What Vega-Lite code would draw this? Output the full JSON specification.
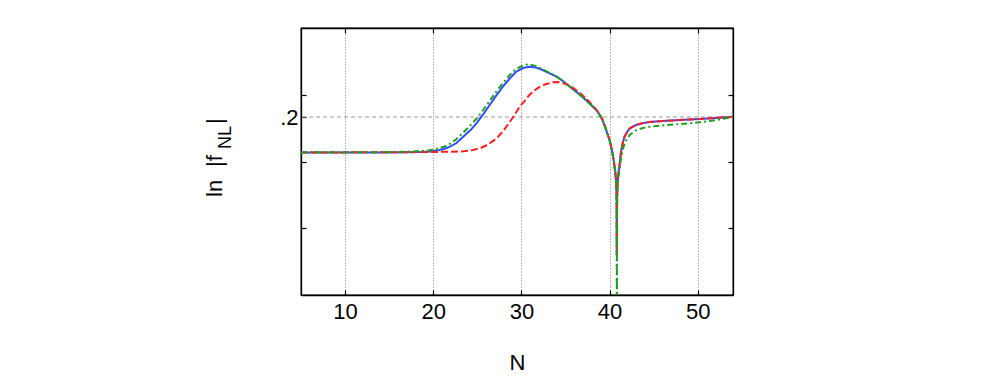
{
  "$schema": "https://vega.github.io/schema/vega-lite/v6.json",
  "width": 432,
  "height": 267,
  "autosize": "none",
  "padding": {"left": 301, "top": 28, "right": 266, "bottom": 83},
  "background": "white",
  "config": {
    "view": {"stroke": "black", "strokeWidth": 1.3},
    "font": "Liberation Sans",
    "axis": {"domainColor": "black", "domainWidth": 1.3, "tickColor": "black", "tickWidth": 1.2, "labelColor": "black", "labelFont": "Liberation Sans", "labelFontSize": 22, "titleFont": "Liberation Sans", "titleFontSize": 22, "titleFontWeight": "normal", "titleColor": "black", "grid": false}
  },
  "datasets": {
    "one": [{"k": 1}],
    "b": [
      {"N":5,"v":0.1202},{"N":8,"v":0.1202},{"N":12,"v":0.1203},{"N":15,"v":0.1205},{"N":17,"v":0.1208},{"N":18.5,"v":0.1215},{"N":19.6,"v":0.1225},{"N":20.5,"v":0.125},{"N":21.2,"v":0.128},{"N":21.9,"v":0.1333},{"N":22.6,"v":0.141},{"N":23.4,"v":0.1557},{"N":24.2,"v":0.17},{"N":24.9,"v":0.1858},{"N":25.6,"v":0.204},{"N":26.4,"v":0.227},{"N":27.1,"v":0.247},{"N":27.9,"v":0.2681},{"N":28.7,"v":0.287},{"N":29.4,"v":0.3018},{"N":30.2,"v":0.31},{"N":30.9,"v":0.313},{"N":31.6,"v":0.3115},{"N":32.4,"v":0.3056},{"N":33.2,"v":0.298},{"N":34.0,"v":0.2906},{"N":34.7,"v":0.281},{"N":35.5,"v":0.2681},{"N":36.2,"v":0.257},{"N":36.9,"v":0.2456},{"N":37.7,"v":0.231},{"N":38.5,"v":0.2157},{"N":38.9,"v":0.204},{"N":39.2,"v":0.193},{"N":39.45,"v":0.18},{"N":39.7,"v":0.166},{"N":40.0,"v":0.148},{"N":40.3,"v":0.122},{"N":40.5,"v":0.098},{"N":40.65,"v":0.076},{"N":40.75,"v":0.052},{"N":40.8,"v":0.02},{"N":40.82,"v":-0.11},{"N":40.85,"v":0.02},{"N":40.9,"v":0.05},{"N":41.0,"v":0.072},{"N":41.13,"v":0.092},{"N":41.3,"v":0.122},{"N":41.5,"v":0.142},{"N":41.7,"v":0.1557},{"N":42.0,"v":0.167},{"N":42.3,"v":0.1745},{"N":43.0,"v":0.182},{"N":43.7,"v":0.186},{"N":44.5,"v":0.1885},{"N":46,"v":0.191},{"N":47.9,"v":0.193},{"N":50.2,"v":0.1955},{"N":52,"v":0.198},{"N":54,"v":0.2005}
    ],
    "r": [
      {"N":5,"v":0.1205},{"N":10,"v":0.1205},{"N":15,"v":0.1206},{"N":19.6,"v":0.1213},{"N":22,"v":0.122},{"N":23.4,"v":0.1228},{"N":24.3,"v":0.125},{"N":25.3,"v":0.1297},{"N":26.2,"v":0.138},{"N":27.2,"v":0.1521},{"N":28.0,"v":0.17},{"N":28.7,"v":0.1894},{"N":29.3,"v":0.207},{"N":29.8,"v":0.2231},{"N":30.4,"v":0.237},{"N":30.9,"v":0.2494},{"N":31.5,"v":0.26},{"N":32.1,"v":0.2681},{"N":32.8,"v":0.274},{"N":33.6,"v":0.278},{"N":34.2,"v":0.2785},{"N":34.7,"v":0.2765},{"N":35.5,"v":0.27},{"N":36.2,"v":0.2607},{"N":37.0,"v":0.248},{"N":37.7,"v":0.2344},{"N":38.5,"v":0.216},{"N":38.9,"v":0.205},{"N":39.2,"v":0.195},{"N":39.45,"v":0.181},{"N":39.7,"v":0.166},{"N":40.0,"v":0.148},{"N":40.3,"v":0.122},{"N":40.5,"v":0.098},{"N":40.65,"v":0.076},{"N":40.75,"v":0.052},{"N":40.8,"v":0.02},{"N":40.82,"v":-0.11},{"N":40.85,"v":0.02},{"N":40.9,"v":0.05},{"N":41.0,"v":0.072},{"N":41.13,"v":0.092},{"N":41.3,"v":0.122},{"N":41.5,"v":0.142},{"N":41.7,"v":0.1557},{"N":42.0,"v":0.167},{"N":42.3,"v":0.1745},{"N":43.0,"v":0.182},{"N":43.7,"v":0.186},{"N":44.5,"v":0.1885},{"N":46,"v":0.191},{"N":47.9,"v":0.193},{"N":50.2,"v":0.1955},{"N":52,"v":0.198},{"N":54,"v":0.2005}
    ],
    "g": [
      {"N":5,"v":0.1205},{"N":10,"v":0.1207},{"N":15,"v":0.1212},{"N":17,"v":0.122},{"N":18.5,"v":0.1235},{"N":19.6,"v":0.1255},{"N":20.5,"v":0.129},{"N":21.2,"v":0.133},{"N":21.9,"v":0.14},{"N":22.6,"v":0.15},{"N":23.4,"v":0.165},{"N":24.2,"v":0.181},{"N":24.9,"v":0.196},{"N":25.6,"v":0.214},{"N":26.4,"v":0.236},{"N":27.1,"v":0.256},{"N":27.9,"v":0.276},{"N":28.7,"v":0.295},{"N":29.4,"v":0.308},{"N":30.2,"v":0.316},{"N":30.8,"v":0.3185},{"N":31.6,"v":0.315},{"N":32.4,"v":0.307},{"N":33.2,"v":0.299},{"N":34.0,"v":0.2906},{"N":34.7,"v":0.281},{"N":35.5,"v":0.2681},{"N":36.2,"v":0.257},{"N":36.9,"v":0.2456},{"N":37.7,"v":0.231},{"N":38.5,"v":0.2157},{"N":38.9,"v":0.204},{"N":39.2,"v":0.193},{"N":39.45,"v":0.18},{"N":39.7,"v":0.166},{"N":40.0,"v":0.148},{"N":40.3,"v":0.122},{"N":40.5,"v":0.098},{"N":40.65,"v":0.076},{"N":40.75,"v":0.052},{"N":40.8,"v":0.0},{"N":40.83,"v":-0.3},{"N":40.86,"v":0.0},{"N":40.92,"v":0.045},{"N":41.0,"v":0.065},{"N":41.13,"v":0.083},{"N":41.3,"v":0.108},{"N":41.5,"v":0.127},{"N":41.7,"v":0.14},{"N":42.0,"v":0.152},{"N":42.3,"v":0.16},{"N":43.0,"v":0.17},{"N":43.7,"v":0.175},{"N":44.5,"v":0.178},{"N":46,"v":0.181},{"N":47.9,"v":0.184},{"N":50.2,"v":0.188},{"N":52,"v":0.193},{"N":54,"v":0.2}
    ]
  },
  "resolve": {"axis": {"x": "independent", "y": "independent"}},
  "layer": [
    {
      "data": {"name": "one"},
      "mark": {"type": "rule", "color": "#999999", "strokeWidth": 1, "strokeDash": [4, 3]},
      "encoding": {
        "y": {"datum": 0.2, "type": "quantitative", "scale": {"domain": [-0.2, 0.4], "nice": false, "zero": false}, "axis": null}
      }
    },
    {
      "data": {"name": "b"},
      "mark": {"type": "line", "color": "#2f4cff", "strokeWidth": 2, "clip": true},
      "encoding": {
        "x": {"field": "N", "type": "quantitative", "scale": {"domain": [5, 54], "nice": false, "zero": false},
              "axis": {"orient": "bottom", "values": [10, 20, 30, 40, 50], "tickSize": -5, "labelPadding": 11, "title": "N", "titlePadding": 30, "grid": true, "gridDash": [1, 2], "gridColor": "#777777", "gridWidth": 1}},
        "y": {"field": "v", "type": "quantitative", "scale": {"domain": [-0.2, 0.4], "nice": false, "zero": false},
              "axis": {"orient": "left", "values": [-0.05, 0.1, 0.2, 0.25], "tickSize": -5, "labelPadding": 8, "labelExpr": "datum.value == 0.2 ? '.2' : ''", "title": null}}
      }
    },
    {
      "data": {"name": "r"},
      "mark": {"type": "line", "color": "#ff1f1f", "strokeWidth": 2, "strokeDash": [7, 3], "clip": true},
      "encoding": {
        "x": {"field": "N", "type": "quantitative", "scale": {"domain": [5, 54], "nice": false, "zero": false},
              "axis": {"orient": "top", "values": [10, 20, 30, 40, 50], "tickSize": -5, "labels": false, "title": null}},
        "y": {"field": "v", "type": "quantitative", "scale": {"domain": [-0.2, 0.4], "nice": false, "zero": false},
              "axis": {"orient": "right", "values": [-0.05, 0.1, 0.25], "tickSize": -5, "labels": false, "title": null}}
      }
    },
    {
      "data": {"name": "g"},
      "mark": {"type": "line", "color": "#1f9e1f", "strokeWidth": 2, "strokeDash": [6, 3, 2, 3], "clip": true},
      "encoding": {
        "x": {"field": "N", "type": "quantitative", "scale": {"domain": [5, 54], "nice": false, "zero": false}, "axis": null},
        "y": {"field": "v", "type": "quantitative", "scale": {"domain": [-0.2, 0.4], "nice": false, "zero": false}, "axis": null}
      }
    },
    {
      "data": {"name": "one"},
      "mark": {"type": "text", "angle": 270, "align": "left", "baseline": "alphabetic", "fontSize": 22, "font": "Liberation Sans", "color": "black"},
      "encoding": {
        "x": {"datum": -3.95, "type": "quantitative", "scale": {"domain": [5, 54], "nice": false, "zero": false}, "axis": null},
        "y": {"datum": 0.0202, "type": "quantitative", "scale": {"domain": [-0.2, 0.4], "nice": false, "zero": false}, "axis": null},
        "text": {"value": "ln"}
      }
    },
    {
      "data": {"name": "one"},
      "mark": {"type": "text", "angle": 270, "align": "left", "baseline": "alphabetic", "fontSize": 22, "font": "Liberation Sans", "color": "black"},
      "encoding": {
        "x": {"datum": -3.95, "type": "quantitative", "scale": {"domain": [5, 54], "nice": false, "zero": false}, "axis": null},
        "y": {"datum": 0.0876, "type": "quantitative", "scale": {"domain": [-0.2, 0.4], "nice": false, "zero": false}, "axis": null},
        "text": {"value": "|f"}
      }
    },
    {
      "data": {"name": "one"},
      "mark": {"type": "text", "angle": 270, "align": "left", "baseline": "alphabetic", "fontSize": 18, "font": "Liberation Sans", "color": "black"},
      "encoding": {
        "x": {"datum": -2.93, "type": "quantitative", "scale": {"domain": [5, 54], "nice": false, "zero": false}, "axis": null},
        "y": {"datum": 0.1281, "type": "quantitative", "scale": {"domain": [-0.2, 0.4], "nice": false, "zero": false}, "axis": null},
        "text": {"value": "NL"}
      }
    },
    {
      "data": {"name": "one"},
      "mark": {"type": "text", "angle": 270, "align": "left", "baseline": "alphabetic", "fontSize": 22, "font": "Liberation Sans", "color": "black"},
      "encoding": {
        "x": {"datum": -3.95, "type": "quantitative", "scale": {"domain": [5, 54], "nice": false, "zero": false}, "axis": null},
        "y": {"datum": 0.1843, "type": "quantitative", "scale": {"domain": [-0.2, 0.4], "nice": false, "zero": false}, "axis": null},
        "text": {"value": "|"}
      }
    }
  ]
}
